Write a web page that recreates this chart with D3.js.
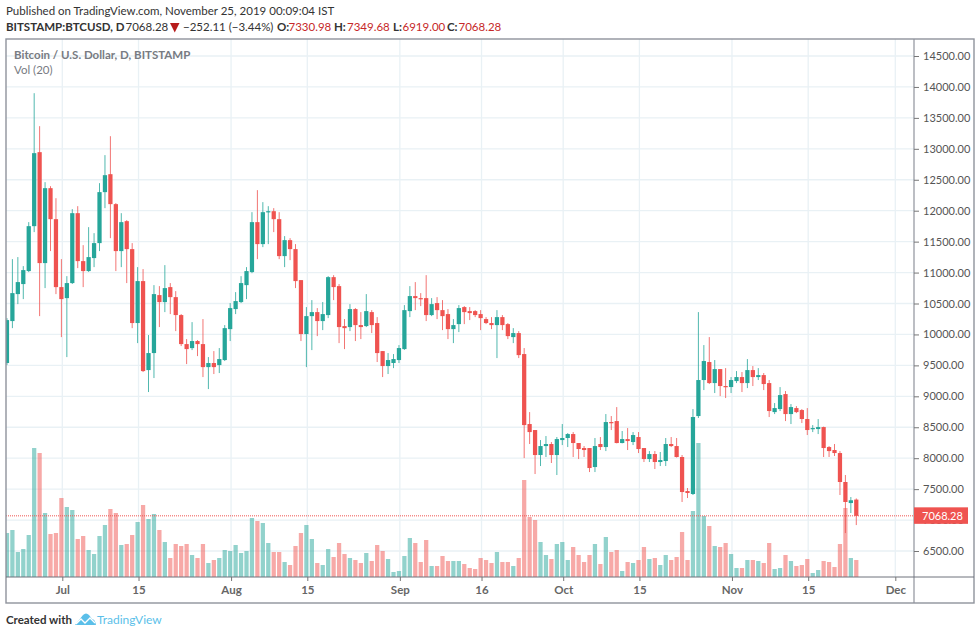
<!DOCTYPE html>
<html>
<head>
<meta charset="utf-8">
<script src="https://cdn.jsdelivr.net/npm/d3@7"></script>
<style>
	html, body { margin: 0; padding: 0; background: #fff; }
	svg { display: block; }
	text { font-family: Lato, sans-serif; font-size: 12px; }
</style>
</head>
<body>
<script>
// Daily candles, Jun 21 to Nov 24 2019
const firstDay = new Date(Date.UTC(2019, 5, 21));

const opens = [9538,10216,10652,10814,11024,11750,12946,11153,12364,11863,
	10765,10587,10830,11960,11185,11024,11234,11476,12300,12590,
	12106,11347,11831,11379,10184,10862,9424,9699,10636,10523,
	10765,10603,10313,9844,9779,9893,9844,9472,9538,9505,
	9586,10086,10410,10523,10797,11008,11815,11460,11976,11992,
	11863,11266,11524,11379,10878,10006,10296,10361,10216,10313,
	10926,10781,10135,10119,10410,10151,10135,10361,10184,9731,
	9489,9538,9586,9763,10377,10620,10587,10587,10313,10507,
	10393,10329,10086,10167,10442,10377,10377,10329,10248,10184,
	10151,10280,10167,9957,10022,9683,8552,8455,8051,8196,
	8229,8051,8293,8326,8390,8245,8164,8164,7857,8229,
	8180,8584,8600,8245,8309,8261,8342,8164,7986,8067,
	7938,7954,8229,8196,8019,7469,7421,8681,9263,9554,
	9214,9440,9166,9150,9246,9311,9214,9424,9311,9343,
	9214,8745,8794,9036,8713,8810,8778,8633,8471,8471,
	8503,8180,8132,8083,7615,7275,7330.98];

const highs = [10264,11217,11250,11104,11815,13899,13366,12461,12396,12202,
	11217,10942,12025,12073,11443,11734,11637,12445,12898,13204,
	12122,11960,11847,11476,11088,11056,9990,10797,10781,11120,
	10830,10700,10329,9925,10199,9909,10248,9634,9731,9780,
	10151,10507,10684,10942,11088,11976,12332,12138,12073,12041,
	11976,11589,11556,11460,10878,10442,10555,10426,10523,10942,
	10958,10814,10248,10490,10426,10361,10652,10393,10280,9731,
	9699,9683,9828,10474,10781,10846,10668,10958,10587,10603,
	10555,10410,10248,10474,10458,10442,10393,10393,10280,10280,
	10393,10313,10184,10102,10054,9780,8745,8455,8293,8358,
	8261,8342,8552,8406,8422,8245,8196,8164,8326,8342,
	8713,8681,8826,8439,8487,8422,8422,8164,8115,8115,
	8100,8326,8342,8326,8051,7518,8794,10361,9828,9957,
	9586,9440,9456,9311,9408,9392,9602,9489,9456,9376,
	9263,8891,9149,9085,8875,8842,8794,8810,8535,8632,
	8510,8196,8229,8115,7728,7372,7349.68];

const lows = [9505,10102,10490,10571,11008,11654,10296,10749,11347,10652,
	9957,9634,10815,11072,10765,11010,11088,11347,12041,11556,
	11024,11088,10830,10102,9860,9392,9069,9295,10119,10361,
	10329,10054,9812,9521,9747,9650,9311,9117,9360,9376,
	9570,9893,10329,10507,10571,10990,11217,11411,11460,11654,
	11217,11088,11201,10749,9893,9472,9747,9973,10070,10264,
	10555,9860,9763,10054,9893,9925,10119,10022,9554,9311,
	9360,9456,9538,9750,10280,10393,10458,10216,10296,10248,
	10070,9925,9860,10038,10167,10232,10280,10070,10167,10086,
	9618,10070,9925,9860,9618,8002,8229,7744,7873,8019,
	7922,7728,8212,8180,8019,7986,8019,7776,7776,8132,
	8115,8455,8240,8240,8132,8212,8083,7938,7938,7825,
	7873,7873,8180,8010,7292,7356,7405,8649,9101,9198,
	9053,9004,8972,9053,9214,9069,9133,9166,9263,9101,
	8665,8713,8762,8600,8552,8729,8568,8374,8422,8390,
	8019,8019,8035,7405,6790,7114,6919];

const closes = [10232,10668,10846,11040,11750,12930,11153,12364,11863,10765,
	10571,10830,11960,11185,11024,11250,11476,12300,12574,12106,
	11347,11815,11379,10184,10862,9408,9699,10652,10523,10749,
	10603,10313,9844,9763,9893,9844,9472,9538,9472,9602,
	10102,10426,10539,10830,11024,11815,11460,11976,11992,11863,
	11266,11524,11379,10862,10006,10296,10361,10216,10329,10926,
	10765,10119,10102,10410,10151,10119,10377,10151,9699,9489,
	9586,9602,9780,10393,10620,10587,10571,10313,10490,10393,
	10296,10086,10151,10426,10361,10345,10313,10264,10184,10151,
	10280,10151,9973,10022,9666,8535,8422,8051,8196,8229,
	8051,8309,8326,8390,8245,8148,8132,7841,8196,8180,
	8584,8568,8245,8309,8277,8374,8148,7986,8067,7938,
	7970,8229,8196,8019,7453,7437,8665,9263,9570,9214,
	9440,9166,9150,9263,9311,9214,9424,9311,9343,9198,
	8762,8810,9020,8713,8826,8745,8633,8455,8487,8503,
	8164,8115,8083,7615,7292,7320,7068.28];

// Volume has no axis in the picture, so these are relative units
const volumes = [4400,4700,2500,2800,4200,12900,12400,6400,4300,4400,
	7900,7000,6700,3800,4100,2700,2300,4100,5200,6800,
	6400,3200,3300,4200,5500,7200,5800,6300,4700,3500,
	1900,3300,3100,3300,2200,1900,3300,1400,1700,1900,
	2700,2600,3200,2400,2600,5900,5600,5400,3400,2500,
	2500,1500,1200,3100,4400,5200,3800,1400,1200,2800,
	2000,3400,2300,1900,1700,1400,2400,1600,3200,2600,
	1800,500,600,2100,3900,3400,1500,3700,1100,1100,
	2100,1600,1600,1600,1300,900,800,1900,1700,1400,
	2500,1500,1500,1100,1900,9700,6000,5700,3500,2200,
	1800,3300,3500,1700,3000,2200,1500,2200,3300,1300,
	4000,2500,2700,600,1500,1400,1700,3000,1800,1900,
	1200,2200,1700,2000,4500,1700,6600,13400,6100,5100,
	3100,3000,3400,2300,900,900,1700,1700,1600,1400,
	3400,800,900,2200,1600,1100,1200,1800,400,700,
	1600,1500,1000,3300,6900,1900,1700];

const priceTicks = [6500,7000,7500,8000,8500,9000,9500,10000,10500,11000,11500,12000,12500,13000,13500,14000,14500];
const tickDates = [[2019,6,1],[2019,6,15],[2019,7,1],[2019,7,15],[2019,8,1],[2019,8,16],[2019,9,1],[2019,9,15],[2019,10,1],[2019,10,15],[2019,11,1]];
const tickLabels = ["Jul","15","Aug","15","Sep","16","Oct","15","Nov","15","Dec"];

const headerParts = [
	{ x: 6, text: "BITSTAMP:BTCUSD, D", bold: true },
	{ x: 125.5, text: "7068.28" },
	{ x: 183, text: "\u2212252.11 (\u22123.44%)" },
	{ x: 277, text: "O:", bold: true },
	{ x: 288.5, text: "7330.98", red: true },
	{ x: 334, text: "H:", bold: true },
	{ x: 347, text: "7349.68", red: true },
	{ x: 393, text: "L:", bold: true },
	{ x: 402.5, text: "6919.00", red: true },
	{ x: 447, text: "C:", bold: true },
	{ x: 458.5, text: "7068.28", red: true }
];

const green = "#26a69a";
const red = "#ef5350";
const gridColor = "#e9f1f5";
const frameColor = "#8f939c";

const candles = opens.map((o, i) => ({
	date: d3.utcDay.offset(firstDay, i),
	open: o,
	high: highs[i],
	low: lows[i],
	close: closes[i],
	volume: volumes[i]
}));
const lastClose = closes[closes.length - 1];

const svg = d3.select("body").append("svg")
	.attr("width", 980)
	.attr("height", 636);

// Chart frame
const frame = { left: 6, right: 974, top: 39, bottom: 603, axisX: 914, axisY: 577 };

// Scales
const dates = tickDates.map(d => new Date(Date.UTC(d[0], d[1], d[2])));
const x = d3.scaleUtc()
	.domain([dates[0], dates[dates.length - 1]])
	.range([62.3, 895.3]);
const y = d3.scaleLinear()
	.domain([6500, 14500])
	.range([551, 56]);
const yVol = d3.scaleLinear()
	.domain([0, 13400])
	.range([frame.axisY, 443]);
const step = x(d3.utcDay.offset(firstDay, 1)) - x(firstDay);
const bodyWidth = step * 0.78;
// Bars sit a little left of their grid line in the picture
const barX = d => x(d.date) - 0.9;
const colorOf = d => d.close >= d.open ? green : red;

svg.append("clipPath").attr("id", "plot")
	.append("rect")
		.attr("x", frame.left)
		.attr("y", frame.top)
		.attr("width", frame.axisX - frame.left)
		.attr("height", frame.axisY - frame.top);

// Grid
svg.append("g").selectAll("line")
	.data(priceTicks)
	.enter()
	.append("line")
		.attr("x1", frame.left)
		.attr("x2", frame.axisX)
		.attr("y1", d => y(d))
		.attr("y2", d => y(d))
		.attr("stroke", gridColor)
		.attr("stroke-width", 1.3);

svg.append("g").selectAll("line")
	.data(dates)
	.enter()
	.append("line")
		.attr("x1", d => x(d))
		.attr("x2", d => x(d))
		.attr("y1", frame.top)
		.attr("y2", frame.axisY)
		.attr("stroke", gridColor)
		.attr("stroke-width", 1.3);

const plot = svg.append("g").attr("clip-path", "url(#plot)");

// Volume
plot.append("g").selectAll("rect")
	.data(candles)
	.enter()
	.append("rect")
		.attr("x", d => barX(d) - bodyWidth / 2)
		.attr("y", d => yVol(d.volume))
		.attr("width", bodyWidth)
		.attr("height", d => yVol(0) - yVol(d.volume))
		.attr("fill", colorOf)
		.attr("fill-opacity", 0.5);

// Wicks and bodies
plot.append("g").selectAll("line")
	.data(candles)
	.enter()
	.append("line")
		.attr("x1", barX)
		.attr("x2", barX)
		.attr("y1", d => y(d.high))
		.attr("y2", d => y(d.low))
		.attr("stroke", colorOf)
		.attr("stroke-opacity", 0.8)
		.attr("stroke-width", 1);

plot.append("g").selectAll("rect")
	.data(candles)
	.enter()
	.append("rect")
		.attr("x", d => barX(d) - bodyWidth / 2)
		.attr("y", d => y(Math.max(d.open, d.close)))
		.attr("width", bodyWidth)
		.attr("height", d => Math.max(1.2, Math.abs(y(d.open) - y(d.close))))
		.attr("fill", colorOf);

// Last price line
svg.append("line")
	.attr("x1", frame.left)
	.attr("x2", frame.axisX)
	.attr("y1", y(lastClose))
	.attr("y2", y(lastClose))
	.attr("stroke", red)
	.attr("stroke-width", 1)
	.attr("stroke-dasharray", "1 1");

// Frame and dividers
svg.append("rect")
	.attr("x", frame.left)
	.attr("y", frame.top)
	.attr("width", frame.right - frame.left)
	.attr("height", frame.bottom - frame.top)
	.attr("fill", "none")
	.attr("stroke", frameColor)
	.attr("stroke-width", 1.4);
svg.append("line")
	.attr("x1", frame.axisX)
	.attr("x2", frame.axisX)
	.attr("y1", frame.top)
	.attr("y2", frame.bottom)
	.attr("stroke", frameColor)
	.attr("stroke-width", 1.2);
svg.append("line")
	.attr("x1", frame.left)
	.attr("x2", frame.axisX)
	.attr("y1", frame.axisY)
	.attr("y2", frame.axisY)
	.attr("stroke", "#6f737c")
	.attr("stroke-width", 1);
svg.append("line")
	.attr("x1", frame.axisX)
	.attr("x2", frame.right)
	.attr("y1", frame.axisY)
	.attr("y2", frame.axisY)
	.attr("stroke", "#6f737c")
	.attr("stroke-width", 1);

// Price axis
const yAxis = svg.append("g")
	.attr("transform", `translate(${frame.axisX},0)`)
	.call(d3.axisRight(y).tickValues(priceTicks).tickFormat(d3.format(".2f")).tickSize(5).tickPadding(4));
yAxis.select(".domain").remove();
yAxis.selectAll("line").attr("stroke", "#777");
yAxis.selectAll("text").attr("fill", "#555").style("font-size", "11px").style("font-family", "Lato, sans-serif");

// Time axis
const xAxis = svg.append("g")
	.attr("transform", `translate(0,${frame.axisY})`)
	.call(d3.axisBottom(x).tickValues(dates).tickFormat((d, i) => tickLabels[i]).tickSize(4).tickPadding(5));
xAxis.select(".domain").remove();
xAxis.selectAll("line").attr("stroke", "#777");
xAxis.selectAll("text").attr("fill", "#666").attr("font-weight", 700).style("font-size", "11.5px").style("font-family", "Lato, sans-serif");

// Last price label
svg.append("rect")
	.attr("x", frame.axisX)
	.attr("y", y(lastClose) - 8.5)
	.attr("width", 54)
	.attr("height", 16.5)
	.attr("fill", red);
svg.append("text")
	.attr("x", 922)
	.attr("y", y(lastClose) + 4)
	.attr("fill", "#fff")
	.style("font-size", "11px")
	.text(d3.format(".2f")(lastClose));

// Legend inside the chart
svg.append("text")
	.attr("x", 14)
	.attr("y", 59)
	.attr("fill", "#787b82")
	.attr("font-weight", 700)
	.style("font-size", "11.5px")
	.text("Bitcoin / U.S. Dollar, D, BITSTAMP");
svg.append("text")
	.attr("x", 14)
	.attr("y", 74)
	.attr("fill", "#787b82")
	.style("font-size", "11.5px")
	.text("Vol (20)");

// Header
svg.append("text")
	.attr("x", 6)
	.attr("y", 15)
	.attr("fill", "#333")
	.style("font-size", "11.5px")
	.text("Published on TradingView.com, November 25, 2019 00:09:04 IST");

svg.append("g").selectAll("text")
	.data(headerParts)
	.enter()
	.append("text")
		.attr("x", d => d.x)
		.attr("y", 31)
		.attr("fill", d => d.red ? "#c62828" : "#333")
		.attr("font-weight", d => d.bold ? 700 : 400)
		.style("font-size", "11.5px")
		.text(d => d.text);

svg.append("path")
	.attr("d", "M170,23 h9.5 l-4.75,9.5 z")
	.attr("fill", "#b71c1c");

// Footer
svg.append("text")
	.attr("x", 6)
	.attr("y", 624)
	.attr("fill", "#333")
	.attr("font-weight", 700)
	.style("font-size", "11.5px")
	.text("Created with");
svg.append("path")
	.attr("d", "M75,625 l4,-5 l4,-5 q3,-3 6,0 l3,4 q3,0 4,6 z")
	.attr("fill", "#5bbfe9");
svg.append("path")
	.attr("d", "M76,624 l5,-5 l4,4 l5,-5 l5,5")
	.attr("fill", "none")
	.attr("stroke", "#fff")
	.attr("stroke-width", 1.3);
svg.append("text")
	.attr("x", 97)
	.attr("y", 624)
	.attr("fill", "#5bbfe9")
	.text("TradingView");
</script>
</body>
</html>
